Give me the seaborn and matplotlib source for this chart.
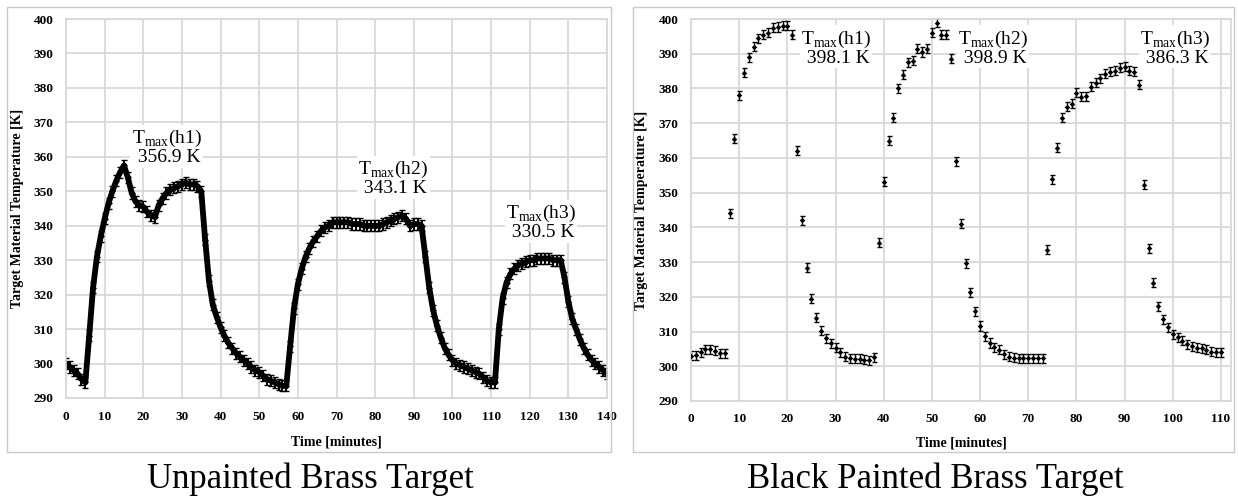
'''
Brass target temperature - unpainted vs black painted

Two panels of target temperature over time, with the peak
temperature of each heating cycle written next to it.
'''
import matplotlib.pyplot as plt
from matplotlib.patches import Rectangle
import pandas as pd
import seaborn as sns

sns.set_style('whitegrid')
plt.rcParams['font.family'] = ['Liberation Serif', 'DejaVu Serif']
plt.rcParams.update({'text.color': 'black', 'axes.labelcolor': 'black',
                     'xtick.color': 'black', 'ytick.color': 'black'})

# unpainted target, one reading per minute (0..140)
unpainted_time = list(range(0, 141))
unpainted_temp = [
    300.0, 299.0, 298.0, 297.0, 295.5, 294.5, 308.0, 322.0, 331.0, 337.0,
    342.0, 346.5, 350.0, 353.0, 355.5, 357.5, 354.0, 349.5, 347.0, 346.0,
    345.5, 344.0, 343.0, 342.5, 346.0, 348.0, 349.5, 350.5, 351.0, 351.5,
    352.0, 352.5, 352.0, 352.0, 351.5, 350.0, 336.0, 324.0, 317.0, 313.5,
    310.5, 308.0, 306.0, 304.5, 303.0, 302.0, 301.0, 300.0, 299.0, 298.0,
    297.5, 296.5, 295.5, 295.0, 294.5, 294.0, 293.5, 293.5, 305.0, 316.0,
    323.0, 327.5, 331.0, 333.5, 335.5, 337.0, 338.5, 339.5, 340.0, 341.0,
    341.0, 341.0, 341.0, 341.0, 340.5, 340.5, 340.5, 340.0, 340.0, 340.0,
    340.0, 340.0, 340.5, 341.0, 341.5, 342.0, 342.5, 343.0, 342.0, 340.0,
    340.5, 340.5, 340.0, 331.0, 322.0, 315.5, 311.0, 307.5, 304.5, 302.5,
    301.0, 300.0, 299.5, 299.0, 298.5, 298.0, 297.5, 297.0, 296.0, 295.0,
    294.5, 294.5, 310.0, 319.0, 323.5, 326.0, 327.5, 328.5, 329.0, 329.5,
    330.0, 330.0, 330.5, 330.5, 330.5, 330.5, 330.0, 330.0, 330.0, 325.0,
    318.0, 313.0, 310.0, 307.0, 304.5, 302.5, 301.0, 300.0, 299.0, 298.0,
    297.0,
]

# black painted target, one reading per minute (0..110)
painted_time = list(range(0, 111))
painted_temp = [
    303.0, 303.2, 304.0, 304.9, 304.9, 304.5, 303.8, 303.8,
    344.0, 365.5, 378.0, 384.5, 389.0, 392.0, 394.5, 395.5, 396.0, 397.5,
    397.7, 398.0, 398.1, 395.5, 362.0, 342.0, 328.4, 319.5, 314.0, 310.2,
    308.0, 306.6, 305.3, 304.0, 302.8, 302.3, 302.1, 302.1, 301.9, 301.8,
    302.6,
    335.6, 353.2, 365.0, 371.5, 380.0, 384.0, 387.5, 388.0, 391.5, 390.5,
    391.5, 396.0, 398.9, 395.5, 395.5, 388.5, 359.0, 341.0, 329.6, 321.3,
    315.8, 311.6, 308.7, 306.7, 305.5, 304.7, 303.5, 302.8, 302.4, 302.3,
    302.3, 302.3, 302.3, 302.3, 302.3,
    333.5, 353.8, 362.9, 371.5, 374.7, 375.6, 378.7, 377.6, 377.8, 380.5,
    381.6, 383.0, 384.2, 384.8, 385.1, 385.9, 386.3, 385.1, 384.8, 381.0,
    352.3, 334.0, 324.1, 317.3, 313.6, 311.3, 309.2, 308.3, 307.3, 306.4,
    305.7, 305.4, 305.2, 304.7, 304.2, 304.0, 304.0,
]
temp_error = 1.3

# peak labels: (heating cycle, value, x, y) in data units
unpainted_peaks = [('h1', '356.9 K', 26.0, 362.8),
                   ('h2', '343.1 K', 84.7, 353.8),
                   ('h3', '330.5 K', 122.9, 341.0)]
painted_peaks = [('h1', '398.1 K', 30.1, 391.7),
                 ('h2', '398.9 K', 62.7, 391.7),
                 ('h3', '386.3 K', 100.5, 391.7)]


def style_axis(ax, xmax, xticks, ylab_x, xlab_y):
    ax.set_xlim(0, xmax)
    ax.set_ylim(290, 400)
    ax.set_xticks(xticks)
    ax.set_yticks(range(290, 401, 10))
    ax.grid(True, color='#d6d6d6', linewidth=1.2)
    for sp in ax.spines.values():
        sp.set_color('#d6d6d6')
        sp.set_linewidth(1.2)
    ax.tick_params(length=0, pad=9, labelsize=9.5)
    for lab in ax.get_xticklabels() + ax.get_yticklabels():
        lab.set_fontweight('bold')
    ax.set_xlabel('Time [minutes]', fontsize=10, fontweight='bold')
    ax.set_ylabel('Target Material Temperature [K]', fontsize=10,
                  fontweight='bold')
    ax.yaxis.set_label_coords(ylab_x, 0.5)
    ax.xaxis.set_label_coords(0.5, xlab_y)


def add_peaks(ax, peaks):
    for name, value, x, y in peaks:
        ax.text(x, y, 'T$_{\\mathregular{max}}$(' + name + ')\n ' + value,
                ha='center', va='center', fontsize=14, linespacing=1.0,
                bbox=dict(fc='white', ec='none', pad=1))


def main():
    fig = plt.figure(figsize=(12.38, 4.96), dpi=100)
    fig.patches.append(Rectangle((7 / 1238, 1 - 452 / 496), 604 / 1238,
                                 445 / 496, transform=fig.transFigure,
                                 fill=False, ec='#c8c8c8', lw=1))
    fig.patches.append(Rectangle((633 / 1238, 1 - 452 / 496), 601 / 1238,
                                 445 / 496, transform=fig.transFigure,
                                 fill=False, ec='#c8c8c8', lw=1))

    left = pd.DataFrame({'time': unpainted_time, 'temp': unpainted_temp})
    right = pd.DataFrame({'time': painted_time, 'temp': painted_temp})

    ax1 = fig.add_axes([66 / 1238, 1 - 398 / 496, 541 / 1238, 379 / 496])
    sns.lineplot(data=left, x='time', y='temp', ax=ax1, color='black',
                 linewidth=4.2, marker='D', markersize=3.5,
                 markeredgewidth=0)
    ax1.errorbar(left['time'], left['temp'], yerr=1.6, fmt='none',
                 ecolor='black', elinewidth=1.4, capsize=2.2)
    style_axis(ax1, 140, range(0, 141, 10), -0.078, -0.1)
    add_peaks(ax1, unpainted_peaks)

    ax2 = fig.add_axes([691 / 1238, 1 - 401 / 496, 540 / 1238, 382 / 496])
    ax2.errorbar(right['time'], right['temp'], yerr=temp_error, fmt='none',
                 ecolor='black', elinewidth=1.0, capsize=1.8)
    sns.scatterplot(data=right, x='time', y='temp', ax=ax2, color='black',
                    marker='D', s=8, linewidth=0, zorder=3)
    style_axis(ax2, 112.1, range(0, 111, 10), -0.08, -0.092)
    add_peaks(ax2, painted_peaks)

    fig.text(310 / 1238, 1 - 488 / 496, 'Unpainted Brass Target',
             ha='center', va='baseline', fontsize=25)
    fig.text(935 / 1238, 1 - 488 / 496, 'Black Painted Brass Target',
             ha='center', va='baseline', fontsize=25)

    plt.savefig('out.png', dpi=100)


if __name__ == '__main__':
    main()
